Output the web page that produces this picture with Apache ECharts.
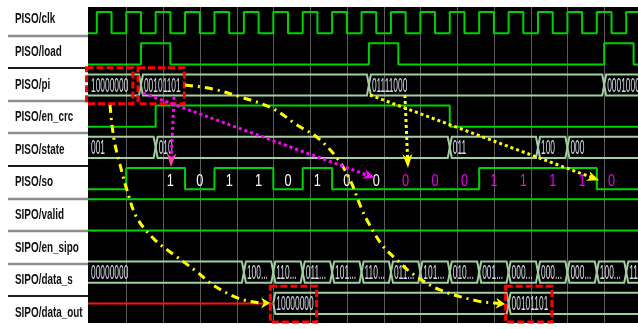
<!DOCTYPE html>
<html>
<head>
<meta charset="utf-8">
<style>
  html, body { margin: 0; padding: 0; background: #ffffff; }
  #chart { width: 638px; height: 329px; }
</style>
<script src="https://cdn.jsdelivr.net/npm/echarts@6/dist/echarts.min.js"></script>
</head>
<body>
<div id="chart"></div>
<script>
// ---------------------------------------------------------------
// Waveform data (times in ns)
// ---------------------------------------------------------------
const signalNames = ['PISO/clk', 'PISO/load', 'PISO/pi', 'PISO/en_crc', 'PISO/state',
                     'PISO/so', 'SIPO/valid', 'SIPO/en_sipo', 'SIPO/data_s', 'SIPO/data_out'];

const timeStart = -1;
const timeEnd = 373;
const gridTimes = [25, 50, 75, 100, 125, 150, 175, 200, 225, 250, 275, 300, 325, 350];

// single-bit signals: initial level + toggle times
const clkInit = 0;
const clkEdges = [5, 15, 25, 35, 45, 55, 65, 75, 85, 95, 105, 115, 125, 135, 145, 155,
                  165, 175, 185, 195, 205, 215, 225, 235, 245, 255, 265, 275, 285, 295,
                  305, 315, 325, 335, 345, 355, 365];
const loadInit = 0;
const loadEdges = [35, 55, 190, 210, 350, 370];
const enCrcInit = 0;
const enCrcEdges = [45, 245];
const validInit = 1;
const validEdges = [];
const enSipoInit = 1;
const enSipoEdges = [];

// serial output: one bit per slot; 'data' = shifted byte, 'crc' = appended crc bits
const soSlotStart = [0, 25, 45, 65, 85, 105, 125, 145, 165, 185, 205, 225, 245, 265, 285, 305, 325, 345, 365];
const soBits      = [0, 1,  1,  0,  1,  1,   0,   1,   0,   0,   0,   0,   0,   1,   1,   1,   1,   0,   0];
const soBitGroup  = ['', '', 'data', 'data', 'data', 'data', 'data', 'data', 'data', 'data',
                     'crc', 'crc', 'crc', 'crc', 'crc', 'crc', 'crc', 'crc', ''];

// bus signals: segment start times + displayed values
const piStart = [0, 35, 190, 350];
const piValues = ['10000000', '00101101', '01111000', '00010000'];
const stateStart = [0, 45, 245, 305, 325];
const stateValues = ['001', '010', '011', '100', '000'];
const dataSStart = [0, 105, 125, 145, 165, 185, 205, 225, 245, 265, 285, 305, 325, 345, 365];
const dataSValues = ['00000000', '100...', '110...', '011...', '101...', '110...', '011...', '101...',
                     '010...', '001...', '000...', '000...', '000...', '100...', '110...'];
const dataOutStart = [125, 285];          // unknown (X) before the first value
const dataOutValues = ['10000000', '00101101'];

// ---------------------------------------------------------------
// Annotations (time, row-coordinate)
// ---------------------------------------------------------------
const highlightSegments = [['pi', 0], ['pi', 1], ['data_out', 0], ['data_out', 1]];

const pathLoadToOut1 = [[13.96, 3.14], [15.3, 3.78], [17.4, 4.42], [20.8, 5.06], [25.5, 5.87],
  [32.3, 6.76], [44.6, 7.47], [59.5, 8.01], [73.1, 8.49], [84.0, 8.91], [101.0, 9.33],
  [116.0, 9.49], [122.8, 9.49]];
const pathLoadToOut2 = [[65.0, 2.50], [84.0, 2.63], [102.4, 2.88], [124.1, 3.24], [141.1, 3.78],
  [155.4, 4.20], [168.3, 4.84], [177.2, 5.54], [184.0, 6.35], [188.7, 6.83], [199.0, 7.63],
  [209.1, 8.11], [220.0, 8.56], [238.4, 9.07], [263.5, 9.42], [275.7, 9.49], [282.5, 9.52]];
const pathByte1First = [[57.5, 2.88], [55.4, 5.13]];
const pathByte1Last  = [[36.4, 2.76], [194.2, 5.48]];
const pathByte2First = [[214.5, 2.82], [216.6, 5.16]];
const pathByte2Last  = [[190.7, 2.82], [346.5, 5.55]];

// ---------------------------------------------------------------
const ROW = { clk: 0, load: 1, pi: 2, en_crc: 3, state: 4, so: 5, valid: 6, en_sipo: 7, data_s: 8, data_out: 9 };
const HIGH = 0.16, LOW = 0.84;
const lvl = (row, bit) => row + (bit ? HIGH : LOW);

const WAVE_GREEN = '#00d200';
const BUS_GREEN = '#a2cfa2';
const BUS_TEXT = '#d6dde8';

const buses = {
  pi: { row: ROW.pi, starts: piStart, values: piValues },
  state: { row: ROW.state, starts: stateStart, values: stateValues },
  data_s: { row: ROW.data_s, starts: dataSStart, values: dataSValues },
  data_out: { row: ROW.data_out, starts: dataOutStart, values: dataOutValues }
};

function stepPoints(row, init, edges) {
  const pts = [[timeStart, lvl(row, init)]];
  let v = init;
  edges.forEach(t => { v = 1 - v; pts.push([t, lvl(row, v)]); });
  pts.push([timeEnd, lvl(row, v)]);
  return pts;
}

function soPoints() {
  const pts = soSlotStart.map((t, i) => [i === 0 ? timeStart : t, lvl(ROW.so, soBits[i])]);
  pts.push([timeEnd, lvl(ROW.so, soBits[soBits.length - 1])]);
  return pts;
}

function wave(name, data) {
  return {
    type: 'line', name, xAxisIndex: 0, yAxisIndex: 0, data,
    step: 'end', symbol: 'none', silent: true, z: 3,
    lineStyle: { color: WAVE_GREEN, width: 2 }
  };
}

function busSeries(key) {
  const bus = buses[key];
  return {
    type: 'custom', name: key, xAxisIndex: 0, yAxisIndex: 0, clip: true, silent: true, z: 3,
    data: bus.starts.map((s, i) => [s, bus.row, i]),
    renderItem(params, api) {
      const i = params.dataIndex;
      const cs = params.coordSys;
      const s = bus.starts[i];
      const last = i + 1 >= bus.starts.length;
      const x0 = s <= 0 ? cs.x - 3 : api.coord([s, bus.row])[0];
      const x1 = last ? cs.x + cs.width + 3 : api.coord([bus.starts[i + 1], bus.row])[0];
      const yT = api.coord([s, bus.row + HIGH])[1];
      const yB = api.coord([s, bus.row + LOW])[1];
      const yM = (yT + yB) / 2;
      const k = 2;
      return {
        type: 'group',
        children: [
          { type: 'polygon',
            shape: { points: [[x0 + k, yT], [x1 - k, yT], [x1, yM], [x1 - k, yB], [x0 + k, yB], [x0, yM]] },
            style: { fill: null, stroke: BUS_GREEN, lineWidth: 2 } },
          { type: 'text', x: Math.max(x0, cs.x) + 3, y: yM + 1, scaleX: 0.42,
            style: { text: bus.values[i], x: 0, y: 0, align: 'left', verticalAlign: 'middle',
                     font: '20px "Liberation Sans", Arial, sans-serif', fill: BUS_TEXT } }
        ]
      };
    }
  };
}

const chart = echarts.init(document.getElementById('chart'));

const option = {
  animation: false,
  backgroundColor: '#ffffff',
  grid: [
    { left: 88, right: 0, top: 7, height: 316, show: true, backgroundColor: '#000000', borderWidth: 0 },
    { left: 0, width: 88, top: 3, height: 329, show: false }
  ],
  xAxis: [
    { type: 'value', gridIndex: 0, min: timeStart, max: timeEnd, show: false },
    { type: 'value', gridIndex: 1, min: 0, max: 1, show: false }
  ],
  yAxis: [
    { type: 'value', gridIndex: 0, min: 0, max: 316 / 31.2, inverse: true, show: false },
    { type: 'category', gridIndex: 1, data: signalNames, inverse: true, show: false }
  ],
  series: [
    // time grid
    {
      type: 'custom', xAxisIndex: 0, yAxisIndex: 0, silent: true, z: 1,
      data: gridTimes.map(t => [t, 0]),
      renderItem(params, api) {
        const cs = params.coordSys;
        const x = Math.round(api.coord([gridTimes[params.dataIndex], 0])[0]) + 0.5;
        return { type: 'line', shape: { x1: x, y1: cs.y, x2: x, y2: cs.y + cs.height },
                 style: { stroke: '#5c5c5c', lineWidth: 1 } };
      }
    },
    // signal names and row separators
    {
      type: 'custom', xAxisIndex: 1, yAxisIndex: 1, silent: true, clip: false, z: 2,
      data: signalNames.map((n, i) => [0, i]),
      renderItem(params, api) {
        const cs = params.coordSys;
        const i = params.dataIndex;
        const yc = api.coord([0, i])[1];
        const band = api.size([0, 1])[1];
        const children = [
          { type: 'text', x: cs.x + 15, y: yc, scaleX: 0.66,
            style: { text: signalNames[i], x: 0, y: 0, align: 'left', verticalAlign: 'middle',
                     font: 'bold 15px "Liberation Sans", Arial, sans-serif', fill: '#111111' } }
        ];
        if (i < signalNames.length - 1) {
          const dark = (i === 1 || i === 4 || i === 8);
          const ys = Math.round(yc + band / 2);
          children.push({ type: 'line', shape: { x1: cs.x + 8, y1: ys, x2: cs.x + cs.width, y2: ys },
                          style: { stroke: dark ? '#1a1a1a' : '#8e8e8e', lineWidth: dark ? 2 : 2.5 } });
        }
        return { type: 'group', children };
      }
    },
    wave('PISO/clk', stepPoints(ROW.clk, clkInit, clkEdges)),
    wave('PISO/load', stepPoints(ROW.load, loadInit, loadEdges)),
    wave('PISO/en_crc', stepPoints(ROW.en_crc, enCrcInit, enCrcEdges)),
    wave('PISO/so', soPoints()),
    wave('SIPO/valid', stepPoints(ROW.valid, validInit, validEdges)),
    wave('SIPO/en_sipo', stepPoints(ROW.en_sipo, enSipoInit, enSipoEdges)),
    busSeries('pi'),
    busSeries('state'),
    busSeries('data_s'),
    busSeries('data_out'),
    // data_out unknown before the first value
    {
      type: 'line', xAxisIndex: 0, yAxisIndex: 0, symbol: 'none', silent: true, z: 3,
      data: [[timeStart, ROW.data_out + 0.5], [dataOutStart[0], ROW.data_out + 0.5]],
      lineStyle: { color: '#ff1010', width: 2 }
    },
    // serial bit values on PISO/so
    {
      type: 'custom', xAxisIndex: 0, yAxisIndex: 0, silent: true, z: 4,
      data: soSlotStart.map((t, i) => [t, ROW.so, i]).filter(d => soBitGroup[d[2]] !== ''),
      renderItem(params, api) {
        const i = api.value(2);
        const mid = (soSlotStart[i] + soSlotStart[i + 1]) / 2;
        const p = api.coord([mid, ROW.so + 0.58]);
        return { type: 'text', x: p[0], y: p[1], scaleX: 0.75,
                 style: { text: String(soBits[i]), x: 0, y: 0, align: 'center', verticalAlign: 'middle',
                          font: '17px "Liberation Sans", Arial, sans-serif',
                          fill: soBitGroup[i] === 'crc' ? '#f000f0' : '#ffffff' } };
      }
    },
    // highlighted values
    {
      type: 'custom', xAxisIndex: 0, yAxisIndex: 0, silent: true, clip: false, z: 6,
      data: highlightSegments.map((h, i) => [buses[h[0]].starts[h[1]], buses[h[0]].row, i]),
      renderItem(params, api) {
        const h = highlightSegments[params.dataIndex];
        const bus = buses[h[0]];
        const s = bus.starts[h[1]];
        const a = api.coord([s - 2, bus.row - 0.05]);
        const b = api.coord([s + 29.5, bus.row + 1.1]);
        return { type: 'rect', shape: { x: a[0], y: a[1], width: b[0] - a[0], height: b[1] - a[1] },
                 style: { fill: null, stroke: '#ff0000', lineWidth: 3, lineDash: [7, 3] } };
      }
    },
    // arrows
    (function () {
      const arrows = [
        { path: pathLoadToOut1, color: '#ffff00', dash: [8, 5, 2, 5], width: 3, smooth: 0.35, head: '#ffff00', len: 9, wid: 11 },
        { path: pathLoadToOut2, color: '#ffff00', dash: [8, 5, 2, 5], width: 3, smooth: 0.35, head: '#ffff00', len: 9, wid: 11 },
        { path: pathByte1First, color: '#ff00ff', dash: [3, 3], width: 3, smooth: 0, head: '#ff3fae', len: 14, wid: 10 },
        { path: pathByte1Last,  color: '#ff00ff', dash: [3, 3], width: 3, smooth: 0, head: '#ff00ff', len: 12, wid: 10 },
        { path: pathByte2First, color: '#ffff00', dash: [3, 3], width: 3, smooth: 0, head: '#ffff00', len: 14, wid: 10 },
        { path: pathByte2Last,  color: '#ffff00', dash: [3, 3], width: 3, smooth: 0, head: '#ffff00', len: 12, wid: 10 }
      ];
      return {
        type: 'custom', xAxisIndex: 0, yAxisIndex: 0, silent: true, clip: false, z: 7,
        data: arrows.map((a, i) => [a.path[0][0], a.path[0][1], i]),
        renderItem(params, api) {
          const a = arrows[params.dataIndex];
          const px = a.path.map(p => api.coord(p));
          const tip = px[px.length - 1];
          const prev = px[px.length - 2];
          let dx = tip[0] - prev[0], dy = tip[1] - prev[1];
          const d = Math.hypot(dx, dy) || 1;
          dx /= d; dy /= d;
          const nx = -dy, ny = dx;
          const base = [tip[0] - dx * a.len, tip[1] - dy * a.len];
          const notch = [tip[0] - dx * a.len * 0.7, tip[1] - dy * a.len * 0.7];
          const line = px.slice(0, -1).concat([notch]);
          return {
            type: 'group',
            children: [
              { type: 'polyline', shape: { points: line, smooth: a.smooth },
                style: { fill: null, stroke: a.color, lineWidth: a.width, lineDash: a.dash } },
              { type: 'polygon',
                shape: { points: [tip, [base[0] + nx * a.wid / 2, base[1] + ny * a.wid / 2], notch,
                                  [base[0] - nx * a.wid / 2, base[1] - ny * a.wid / 2]] },
                style: { fill: a.head, stroke: null } }
            ]
          };
        }
      };
    })()
  ]
};

chart.setOption(option);
</script>
</body>
</html>
